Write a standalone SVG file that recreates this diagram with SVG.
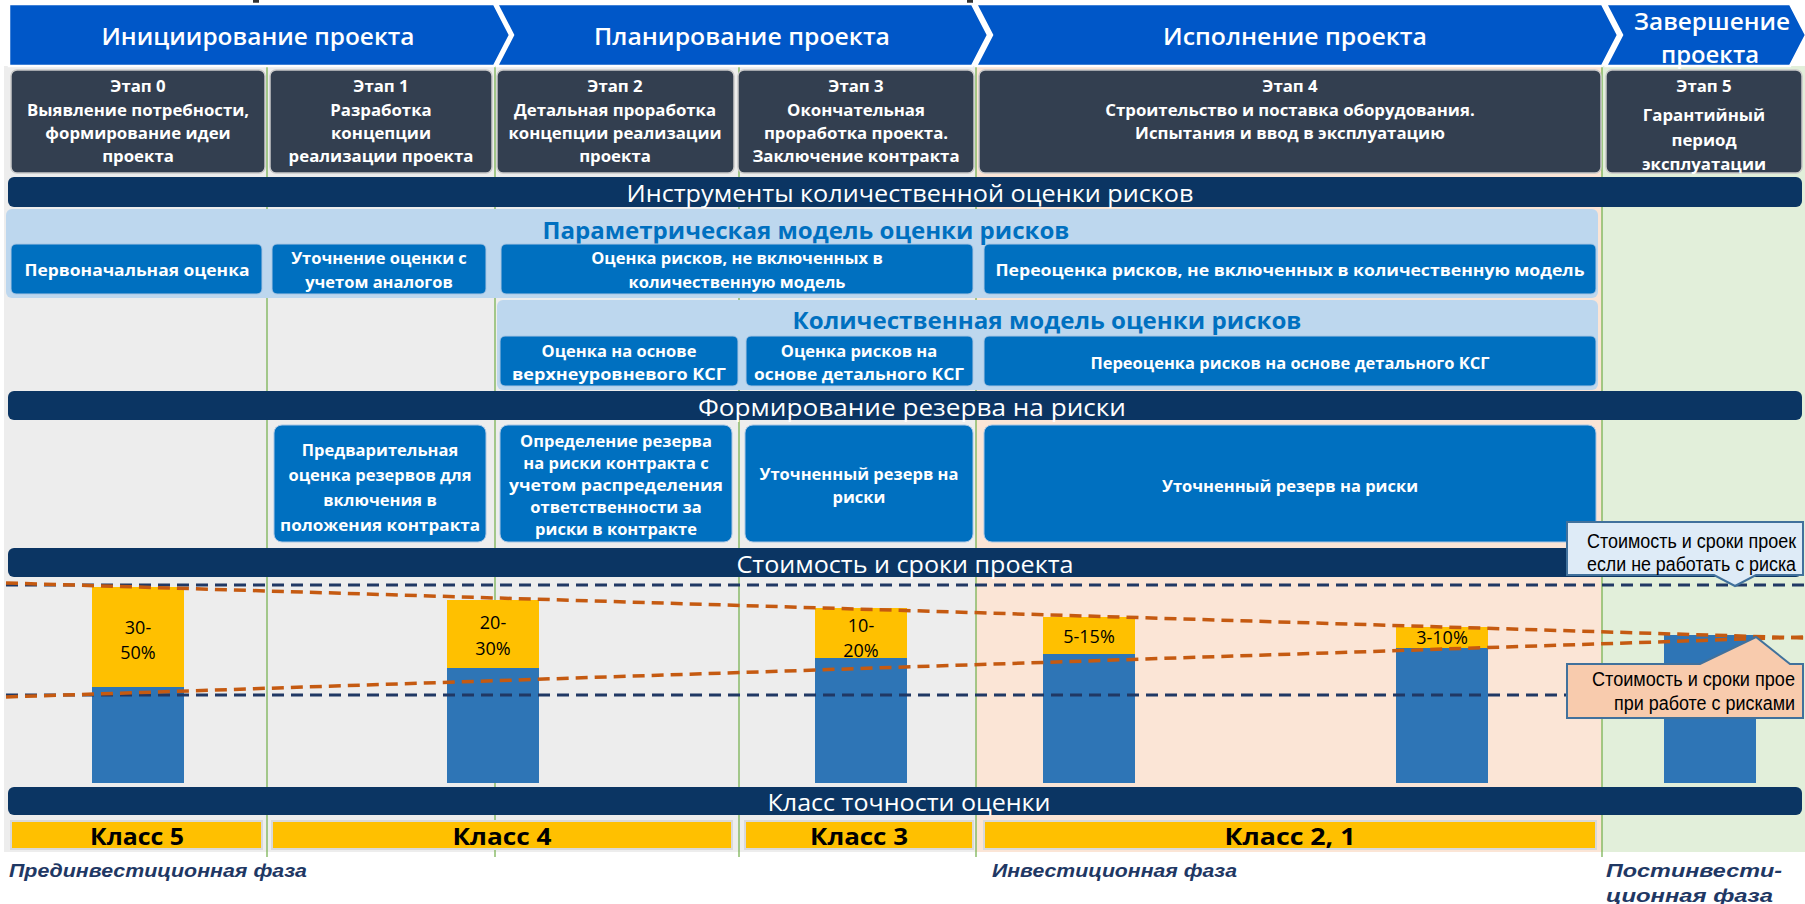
<svg xmlns="http://www.w3.org/2000/svg" width="1805" height="904" viewBox="0 0 1805 904">
<style>
.chev{fill:#0057C8;stroke:#ffffff;stroke-width:2.5}
.chevT{font-family:'Open Sans',sans-serif;font-weight:600;font-size:24px;fill:#ffffff;text-anchor:middle;dominant-baseline:central}
.stage{fill:#333F50;stroke:#C9C9C9;stroke-width:1.5}
.stT{font-family:'Open Sans',sans-serif;font-weight:700;font-size:16.8px;fill:#ffffff;text-anchor:middle;dominant-baseline:central}
.navy{fill:#0B3563}
.navyT{font-family:'Open Sans',sans-serif;font-weight:400;font-size:24px;fill:#ffffff;text-anchor:middle;dominant-baseline:central}
.panel{fill:#BDD7EE}
.panT{font-family:'Open Sans',sans-serif;font-weight:700;font-size:23px;fill:#0070C0;text-anchor:middle;dominant-baseline:central}
.box{fill:#0070C0;stroke:#A9C6E4;stroke-width:1}
.boxT{font-family:'Open Sans',sans-serif;font-weight:700;font-size:16.5px;fill:#ffffff;text-anchor:middle;dominant-baseline:central}
.vline{stroke:#70AD47;stroke-width:1.2}
.dashN{stroke:#203864;stroke-width:3;stroke-dasharray:12 7;fill:none}
.dashO{stroke:#C55A11;stroke-width:3.5;stroke-dasharray:12 7;fill:none}
.yel{fill:#FFC000}
.blu{fill:#2E75B6}
.pct{font-family:'Open Sans',sans-serif;font-weight:400;font-size:18px;fill:#000000;text-anchor:middle;dominant-baseline:central}
.cls{fill:#FFC000;stroke:#D9D9D9;stroke-width:2}
.clsT{font-family:'Open Sans',sans-serif;font-weight:700;font-size:24px;fill:#000000;text-anchor:middle;dominant-baseline:central}
.phase{font-family:'Liberation Sans',Arial,sans-serif;font-style:italic;font-weight:700;font-size:19px;fill:#1F3864;dominant-baseline:central}
.callT{font-family:'Liberation Sans',Arial,sans-serif;font-size:19.5px;fill:#000000;dominant-baseline:central}
</style>

<g id="backgrounds">
  <rect x="0" y="0" width="1805" height="904" fill="#ffffff"/>
  <rect x="4" y="66" width="972" height="786" fill="#EDEDED"/>
  <rect x="976" y="66" width="626" height="786" fill="#FBE5D6"/>
  <rect x="1602" y="66" width="203" height="786" fill="#E2EFDA"/>
  <rect x="253" y="0" width="6" height="3" fill="#333333"/>
  <rect x="967" y="0" width="6" height="3" fill="#333333"/>
</g>

<g id="phase-lines">
  <line class="vline" x1="267" y1="66" x2="267" y2="857"/>
  <line class="vline" x1="495" y1="66" x2="495" y2="857"/>
  <line class="vline" x1="739" y1="66" x2="739" y2="857"/>
  <line class="vline" x1="976" y1="66" x2="976" y2="857"/>
  <line class="vline" x1="1602" y1="66" x2="1602" y2="857"/>
</g>

<g id="chevron-init">
  <path class="chev" d="M9,4 H494 L510,35 L494,66 H9 Z"/>
  <text class="chevT" x="258" y="35" textLength="313" lengthAdjust="spacingAndGlyphs">Инициирование проекта</text>
</g>
<g id="chevron-plan">
  <path class="chev" d="M497,4 H972 L988,35 L972,66 H497 L513,35 Z"/>
  <text class="chevT" x="742" y="35" textLength="296" lengthAdjust="spacingAndGlyphs">Планирование проекта</text>
</g>
<g id="chevron-exec">
  <path class="chev" d="M976,4 H1602 L1618,35 L1602,66 H976 L992,35 Z"/>
  <text class="chevT" x="1295" y="35" textLength="264" lengthAdjust="spacingAndGlyphs">Исполнение проекта</text>
</g>
<g id="chevron-close">
  <path class="chev" d="M1606,4 H1790 L1806,35 L1790,66 H1606 L1622,35 Z"/>
  <text class="chevT" x="1712" y="20" textLength="156" lengthAdjust="spacingAndGlyphs">Завершение</text>
  <text class="chevT" x="1710" y="53" textLength="98" lengthAdjust="spacingAndGlyphs">проекта</text>
</g>

<g id="stage0">
  <rect class="stage" x="11" y="70" width="254" height="103" rx="6"/>
  <text class="stT" x="138" y="85">Этап 0</text>
  <text class="stT" x="138" y="109">Выявление потребности,</text>
  <text class="stT" x="138" y="132">формирование идеи</text>
  <text class="stT" x="138" y="155">проекта</text>
</g>
<g id="stage1">
  <rect class="stage" x="270" y="70" width="222" height="103" rx="6"/>
  <text class="stT" x="381" y="85">Этап 1</text>
  <text class="stT" x="381" y="109">Разработка</text>
  <text class="stT" x="381" y="132">концепции</text>
  <text class="stT" x="381" y="155">реализации проекта</text>
</g>
<g id="stage2">
  <rect class="stage" x="497" y="70" width="237" height="103" rx="6"/>
  <text class="stT" x="615" y="85">Этап 2</text>
  <text class="stT" x="615" y="109">Детальная проработка</text>
  <text class="stT" x="615" y="132">концепции реализации</text>
  <text class="stT" x="615" y="155">проекта</text>
</g>
<g id="stage3">
  <rect class="stage" x="738" y="70" width="236" height="103" rx="6"/>
  <text class="stT" x="856" y="85">Этап 3</text>
  <text class="stT" x="856" y="109">Окончательная</text>
  <text class="stT" x="856" y="132">проработка проекта.</text>
  <text class="stT" x="856" y="155">Заключение контракта</text>
</g>
<g id="stage4">
  <rect class="stage" x="979" y="70" width="622" height="103" rx="6"/>
  <text class="stT" x="1290" y="85">Этап 4</text>
  <text class="stT" x="1290" y="109">Строительство и поставка оборудования.</text>
  <text class="stT" x="1290" y="132">Испытания и ввод в эксплуатацию</text>
</g>
<g id="stage5">
  <rect class="stage" x="1606" y="70" width="196" height="103" rx="6"/>
  <text class="stT" x="1704" y="85">Этап 5</text>
  <text class="stT" x="1704" y="114">Гарантийный</text>
  <text class="stT" x="1704" y="139">период</text>
  <text class="stT" x="1704" y="163">эксплуатации</text>
</g>

<g id="bar-tools">
  <rect class="navy" x="8" y="177" width="1794" height="30" rx="6"/>
  <text class="navyT" x="910" y="192" textLength="567" lengthAdjust="spacingAndGlyphs">Инструменты количественной оценки рисков</text>
</g>

<g id="panel-param">
  <rect class="panel" x="6" y="209" width="1592" height="89" rx="6"/>
  <text class="panT" x="806" y="230" textLength="527" lengthAdjust="spacingAndGlyphs">Параметрическая модель оценки рисков</text>
</g>
<g id="param-initial">
  <rect class="box" x="11" y="244" width="251" height="50" rx="5"/>
  <text class="boxT" x="137" y="269" textLength="225" lengthAdjust="spacingAndGlyphs">Первоначальная оценка</text>
</g>
<g id="param-analogs">
  <rect class="box" x="272" y="244" width="214" height="50" rx="5"/>
  <text class="boxT" x="379" y="257">Уточнение оценки с</text>
  <text class="boxT" x="379" y="281">учетом аналогов</text>
</g>
<g id="param-nonquant">
  <rect class="box" x="501" y="244" width="472" height="50" rx="5"/>
  <text class="boxT" x="737" y="257">Оценка рисков, не включенных в</text>
  <text class="boxT" x="737" y="281">количественную модель</text>
</g>
<g id="param-reassess">
  <rect class="box" x="984" y="244" width="612" height="50" rx="5"/>
  <text class="boxT" x="1290" y="269" textLength="589" lengthAdjust="spacingAndGlyphs">Переоценка рисков, не включенных в количественную модель</text>
</g>

<g id="panel-quant">
  <rect class="panel" x="497" y="300" width="1101" height="90" rx="6"/>
  <text class="panT" x="1047" y="320" textLength="509" lengthAdjust="spacingAndGlyphs">Количественная модель оценки рисков</text>
</g>
<g id="quant-top">
  <rect class="box" x="500" y="336" width="238" height="50" rx="5"/>
  <text class="boxT" x="619" y="350">Оценка на основе</text>
  <text class="boxT" x="619" y="373" textLength="214" lengthAdjust="spacingAndGlyphs">верхнеуровневого КСГ</text>
</g>
<g id="quant-detail">
  <rect class="box" x="746" y="336" width="227" height="50" rx="5"/>
  <text class="boxT" x="859" y="350">Оценка рисков на</text>
  <text class="boxT" x="859" y="373" textLength="210" lengthAdjust="spacingAndGlyphs">основе детального КСГ</text>
</g>
<g id="quant-reassess">
  <rect class="box" x="984" y="336" width="612" height="50" rx="5"/>
  <text class="boxT" x="1290" y="362">Переоценка рисков на основе детального КСГ</text>
</g>

<g id="bar-reserve">
  <rect class="navy" x="8" y="391" width="1794" height="29" rx="6"/>
  <text class="navyT" x="912" y="406" textLength="428" lengthAdjust="spacingAndGlyphs">Формирование резерва на риски</text>
</g>
<g id="reserve-prelim">
  <rect class="box" x="274" y="425" width="212" height="117" rx="8"/>
  <text class="boxT" x="380" y="449">Предварительная</text>
  <text class="boxT" x="380" y="474">оценка резервов для</text>
  <text class="boxT" x="380" y="499">включения в</text>
  <text class="boxT" x="380" y="524" textLength="200" lengthAdjust="spacingAndGlyphs">положения контракта</text>
</g>
<g id="reserve-contract">
  <rect class="box" x="500" y="425" width="232" height="117" rx="8"/>
  <text class="boxT" x="616" y="440">Определение резерва</text>
  <text class="boxT" x="616" y="462">на риски контракта с</text>
  <text class="boxT" x="616" y="484" textLength="214" lengthAdjust="spacingAndGlyphs">учетом распределения</text>
  <text class="boxT" x="616" y="506">ответственности за</text>
  <text class="boxT" x="616" y="528">риски в контракте</text>
</g>
<g id="reserve-refined1">
  <rect class="box" x="745" y="425" width="228" height="117" rx="8"/>
  <text class="boxT" x="859" y="473">Уточненный резерв на</text>
  <text class="boxT" x="859" y="496">риски</text>
</g>
<g id="reserve-refined2">
  <rect class="box" x="984" y="425" width="612" height="117" rx="8"/>
  <text class="boxT" x="1290" y="485">Уточненный резерв на риски</text>
</g>

<g id="bar-cost">
  <rect class="navy" x="8" y="548" width="1794" height="29" rx="6"/>
  <text class="navyT" x="905" y="563" textLength="337" lengthAdjust="spacingAndGlyphs">Стоимость и сроки проекта</text>
</g>

<g id="chart-bars">
  <rect class="yel" x="92" y="587" width="92" height="100"/>
  <rect class="blu" x="92" y="687" width="92" height="96"/>
  <rect class="yel" x="447" y="600" width="92" height="68"/>
  <rect class="blu" x="447" y="668" width="92" height="115"/>
  <rect class="yel" x="815" y="608" width="92" height="50"/>
  <rect class="blu" x="815" y="658" width="92" height="125"/>
  <rect class="yel" x="1043" y="617" width="92" height="37"/>
  <rect class="blu" x="1043" y="654" width="92" height="129"/>
  <rect class="yel" x="1396" y="627" width="92" height="21"/>
  <rect class="blu" x="1396" y="648" width="92" height="135"/>
  <rect class="blu" x="1664" y="635" width="92" height="148"/>
  <text class="pct" x="138" y="627">30-</text>
  <text class="pct" x="138" y="652">50%</text>
  <text class="pct" x="493" y="622">20-</text>
  <text class="pct" x="493" y="648">30%</text>
  <text class="pct" x="861" y="625">10-</text>
  <text class="pct" x="861" y="650">20%</text>
  <text class="pct" x="1089" y="636" font-size="16">5-15%</text>
  <text class="pct" x="1442" y="637" font-size="16">3-10%</text>
</g>

<g id="connectors">
  <line class="dashN" x1="6" y1="585" x2="1805" y2="585"/>
  <line class="dashN" x1="6" y1="695" x2="1805" y2="695"/>
  <line class="dashO" x1="6" y1="583" x2="1805" y2="638"/>
  <line class="dashO" x1="6" y1="697" x2="1805" y2="637"/>
</g>

<g id="callout-norisk">
  <path d="M1567,522 H1803 V575 H1756 L1735,586 L1714,575 H1567 Z" fill="#DEEBF7" stroke="#41719C" stroke-width="2"/>
  <text class="callT" x="1587" y="541" textLength="209" lengthAdjust="spacingAndGlyphs">Стоимость и сроки проек</text>
  <text class="callT" x="1587" y="564" textLength="209" lengthAdjust="spacingAndGlyphs">если не работать с риска</text>
</g>
<g id="callout-risk">
  <path d="M1567,664 H1700 L1756,637 L1790,664 H1803 V718 H1567 Z" fill="#F8CBAD" stroke="#41719C" stroke-width="2"/>
  <text class="callT" x="1592" y="679" textLength="203" lengthAdjust="spacingAndGlyphs">Стоимость и сроки прое</text>
  <text class="callT" x="1614" y="703" textLength="181" lengthAdjust="spacingAndGlyphs">при работе с рисками</text>
</g>

<g id="bar-class">
  <rect class="navy" x="8" y="787" width="1794" height="28" rx="6"/>
  <text class="navyT" x="909" y="801" textLength="283" lengthAdjust="spacingAndGlyphs">Класс точности оценки</text>
</g>
<g id="class5">
  <rect class="cls" x="11" y="821" width="251" height="28"/>
  <text class="clsT" x="137" y="835" textLength="94" lengthAdjust="spacingAndGlyphs">Класс 5</text>
</g>
<g id="class4">
  <rect class="cls" x="272" y="821" width="460" height="28"/>
  <text class="clsT" x="502" y="835" textLength="99" lengthAdjust="spacingAndGlyphs">Класс 4</text>
</g>
<g id="class3">
  <rect class="cls" x="745" y="821" width="228" height="28"/>
  <text class="clsT" x="859" y="835" textLength="98" lengthAdjust="spacingAndGlyphs">Класс 3</text>
</g>
<g id="class21">
  <rect class="cls" x="984" y="821" width="612" height="28"/>
  <text class="clsT" x="1290" y="835" textLength="131" lengthAdjust="spacingAndGlyphs">Класс 2, 1</text>
</g>

<g id="phase-labels">
  <text class="phase" x="9" y="870" textLength="298" lengthAdjust="spacingAndGlyphs">Прединвестиционная  фаза</text>
  <text class="phase" x="992" y="870" textLength="245" lengthAdjust="spacingAndGlyphs">Инвестиционная  фаза</text>
  <text class="phase" x="1606" y="870" textLength="176" lengthAdjust="spacingAndGlyphs">Постинвести-</text>
  <text class="phase" x="1606" y="895" textLength="167" lengthAdjust="spacingAndGlyphs">ционная  фаза</text>
</g>
</svg>
